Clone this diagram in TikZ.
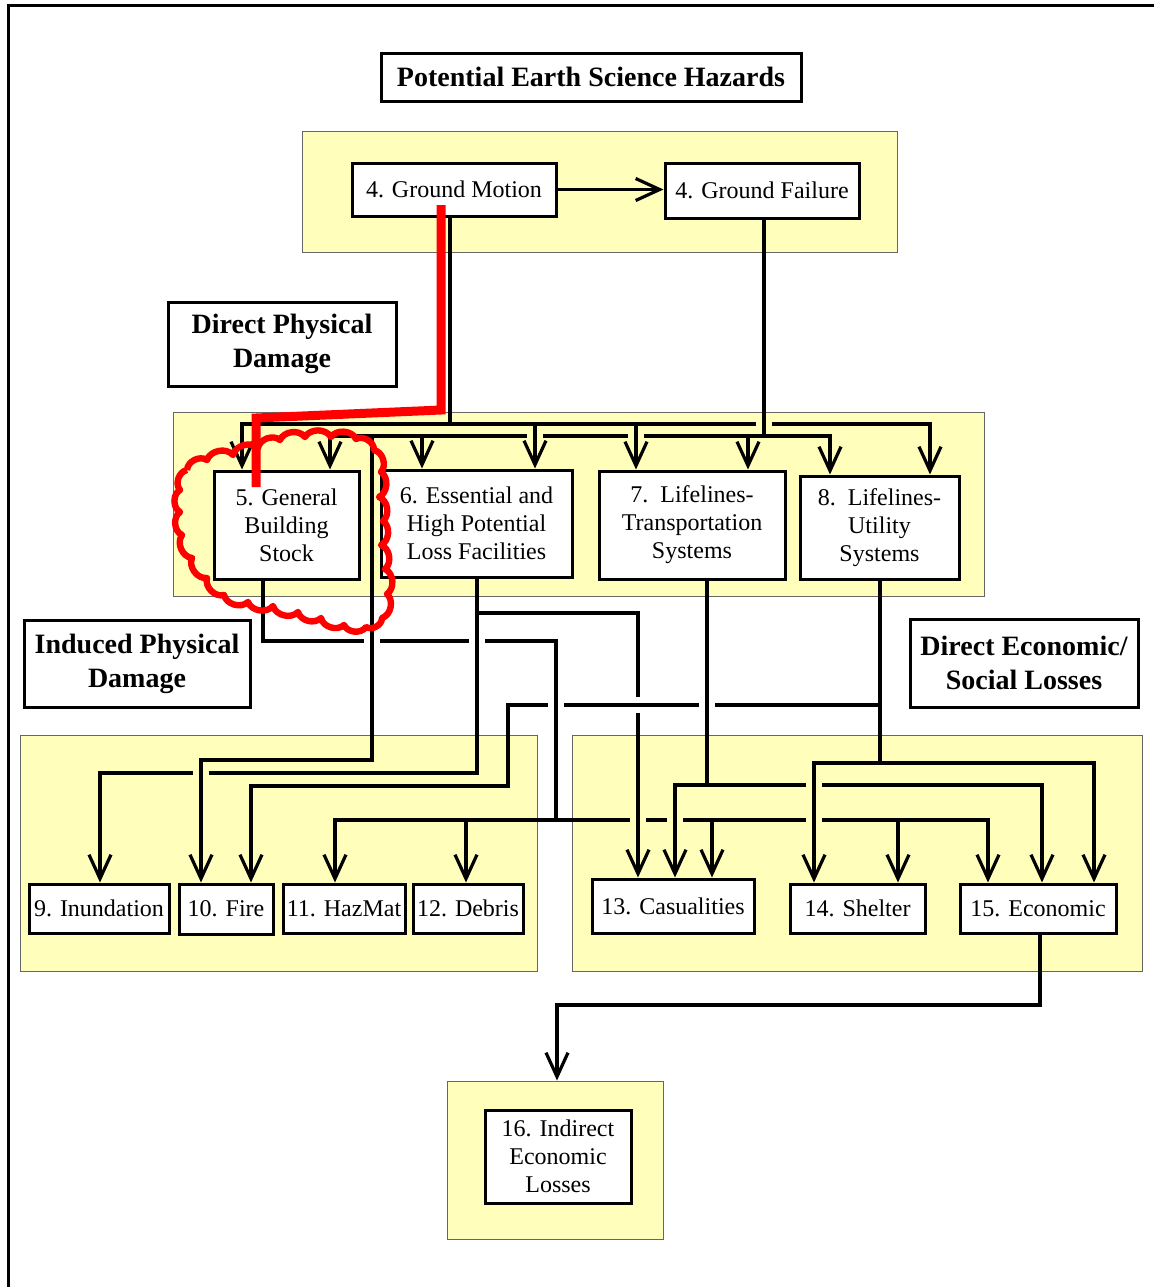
\documentclass[tikz,border=0pt]{standalone}
\usepackage{fontspec}
\setmainfont{Liberation Serif}
\usetikzlibrary{arrows.meta, fit}
\definecolor{paleyellow}{RGB}{255,255,187}

\begin{document}
\begin{tikzpicture}
    [
        x=0.5pt, y=-0.5pt,
        box/.style = {draw, fill=white, line width=1.5pt, inner sep=0pt, align=center, font=\fontsize{12}{14}\selectfont},
        head/.style = {draw, fill=white, line width=1.5pt, inner sep=0pt, align=center, font=\fontsize{14}{17}\selectfont\bfseries},
        zone/.style = {draw=black!60, fill=paleyellow, line width=0.5pt, inner sep=0pt},
        arr/.style = {line width=1.6pt, -{Straight Barb[length=12pt, width=11pt]}},
        bridge/.style = {line width=1.6pt, preaction={draw=#1, line width=8pt}},
        redmark/.style = {draw=red, line width=4.5pt},
        cloudline/.style = {draw=red, line width=3.2pt, line join=round},
    ]
    \useasboundingbox (0,0) rectangle (1153,1287);
    \draw[line width=1.5pt] (8,1300) -- (8,5.5) -- (1170,5.5);

    % yellow zones
    \node[zone, fit={(302,131) (897,252)}] (zhaz) {};
    \node[zone, fit={(173,412) (984,596)}] (zdir) {};
    \node[zone, fit={(20,735) (537,971)}] (zind) {};
    \node[zone, fit={(572,735) (1142,971)}] (zsoc) {};
    \node[zone, fit={(447,1081) (663,1239)}] (zidx) {};

    % titles
    \node[head, minimum width=210pt, minimum height=24pt] (haz) at (591,77) {\raisebox{-2pt}{Potential Earth Science Hazards}};
    \node[head, minimum width=114pt, minimum height=42pt] (dpd) at (282,344) {Direct Physical\\Damage};
    \node[head, minimum width=113pt, minimum height=43.5pt] (ipd) at (137,663.5) {Induced Physical\\Damage};
    \node[head, minimum width=114pt, minimum height=44pt] (dsl) at (1024,663) {Direct Economic/\\Social Losses};

    % boxes
    \node[box, minimum width=102pt, minimum height=26.5pt] (gm) at (454,189.5) {4. Ground Motion};
    \node[box, minimum width=97pt, minimum height=27.5pt] (gf) at (762,190.5) {4. Ground Failure};

    \node[box, minimum width=72.5pt, minimum height=54pt] (b5) at (286.5,525) {5. General\\Building\\Stock};
    \node[box, minimum width=95.5pt, minimum height=53.5pt] (b6) at (476.5,523.5) {6. Essential and\\High Potential\\Loss Facilities};
    \node[box, minimum width=93pt, minimum height=54pt] (b7) at (692,525) {7.\ \ Lifelines-\\Transportation\\Systems};
    \node[box, minimum width=79.5pt, minimum height=51.5pt] (b8) at (879.5,527.5) {8.\ \ Lifelines-\\Utility\\Systems};

    \node[box, minimum width=70pt, minimum height=24.5pt] (b9) at (99,908.5) {9. Inundation};
    \node[box, minimum width=47pt, minimum height=25pt] (b10) at (226,909) {10. Fire};
    \node[box, minimum width=61pt, minimum height=24.5pt] (b11) at (344,908.5) {11. HazMat};
    \node[box, minimum width=55pt, minimum height=24.5pt] (b12) at (468,908.5) {12. Debris};

    \node[box, minimum width=81pt, minimum height=27pt] (b13) at (673,906) {13. Casualities};
    \node[box, minimum width=67.5pt, minimum height=24.5pt] (b14) at (857.5,908.5) {14. Shelter};
    \node[box, minimum width=78pt, minimum height=24.5pt] (b15) at (1038,908.5) {15. Economic};

    \node[box, minimum width=73pt, minimum height=46.5pt] (b16) at (558,1156.5) {16. Indirect\\Economic\\Losses};

    % hazards
    \draw[arr] (gm.east) -- (gm.east -| gf.west);

    \draw[arr] (gm.south -| 450,0) |- (242,424) -- (b5.north -| 242,0);
    \draw[arr] (gm.south -| 450,0) |- (535,424) -- (b6.north -| 535,0);
    \draw[arr] (gm.south -| 450,0) |- (636,424) -- (b7.north -| 636,0);
    \draw[arr] (gm.south -| 450,0) |- (930,424) -- (b8.north -| 930,0);

    \draw[arr] (gf.south -| 764,0) |- (330,436) -- (b5.north -| 330,0);
    \draw[arr] (gf.south -| 764,0) |- (422,436) -- (b6.north -| 422,0);
    \draw[arr] (gf.south -| 764,0) |- (748,436) -- (b7.north -| 748,0);
    \draw[arr] (gf.south -| 764,0) |- (830,436) -- (b8.north -| 830,0);
    \draw[arr] (gf.south -| 764,0) |- (372,436) |- (201,760) -- (b10.north -| 201,0);

    % physical damage
    \draw[arr] (b5.south -| 263,0) |- (556,641) |- (335,820) -- (b11.north -| 335,0);
    \draw[arr] (b5.south -| 263,0) |- (556,641) |- (466,820) -- (b12.north -| 466,0);
    \draw[arr] (b5.south -| 263,0) |- (556,641) |- (712,820) -- (b13.north -| 712,0);
    \draw[arr] (b5.south -| 263,0) |- (556,641) |- (898,820) -- (b14.north -| 898,0);
    \draw[arr] (b5.south -| 263,0) |- (556,641) |- (988,820) -- (b15.north -| 988,0);

    \draw[arr] (b6.south -| 477,0) |- (100,773) -- (b9.north -| 100,0);
    \draw[arr] (b6.south -| 477,0) |- (638,613) -- (b13.north -| 638,0);

    \draw[arr] (b7.south -| 707,0) |- (675,785) -- (b13.north -| 675,0);
    \draw[arr] (b7.south -| 707,0) |- (1042,785) -- (b15.north -| 1042,0);

    \draw[arr] (b8.south -| 880,0) |- (508,705) |- (251,786) -- (b10.north -| 251,0);
    \draw[arr] (b8.south -| 880,0) |- (814,763) -- (b14.north -| 814,0);
    \draw[arr] (b8.south -| 880,0) |- (1094,763) -- (b15.north -| 1094,0);

    \draw[arr] (b15.south -| 1040,0) |- (557,1005) -- (zidx.north -| 557,0);

    % line jumps
    \draw[bridge=paleyellow] (764,418) -- (764,430);
    \draw[bridge=paleyellow] (535,430) -- (535,442);
    \draw[bridge=paleyellow] (636,430) -- (636,442);
    \draw[bridge=white] (372,635) -- (372,647);
    \draw[bridge=white] (477,635) -- (477,647);
    \draw[bridge=white] (556,699) -- (556,711);
    \draw[bridge=white] (707,699) -- (707,711);
    \draw[bridge=white] (630,705) -- (646,705);
    \draw[bridge=paleyellow] (201,767) -- (201,779);
    \draw[bridge=paleyellow] (814,779) -- (814,791);
    \draw[bridge=paleyellow] (638,814) -- (638,826);
    \draw[bridge=paleyellow] (675,814) -- (675,826);
    \draw[bridge=paleyellow] (814,814) -- (814,826);

    % red marks
    \draw[redmark] (441,205) -- (441,410) -- (256,418) -- (256,487);
    \draw[cloudline] (187,470)
        \foreach \x/\y in {207/460, 233/455, 258/448, 280/440, 305/437, 331/437, 356/439, 374/450,
                           381/472, 379/497, 383/521, 381/545, 385/569, 387/594, 382/618,
                           366/627, 344/625, 321/618, 298/612, 273/606, 248/602, 224/595,
                           207/578, 192/558, 182/535, 180/512, 180/490, 187/470}
        { to[bend left=60] (\x,\y) };
\end{tikzpicture}
\end{document}
